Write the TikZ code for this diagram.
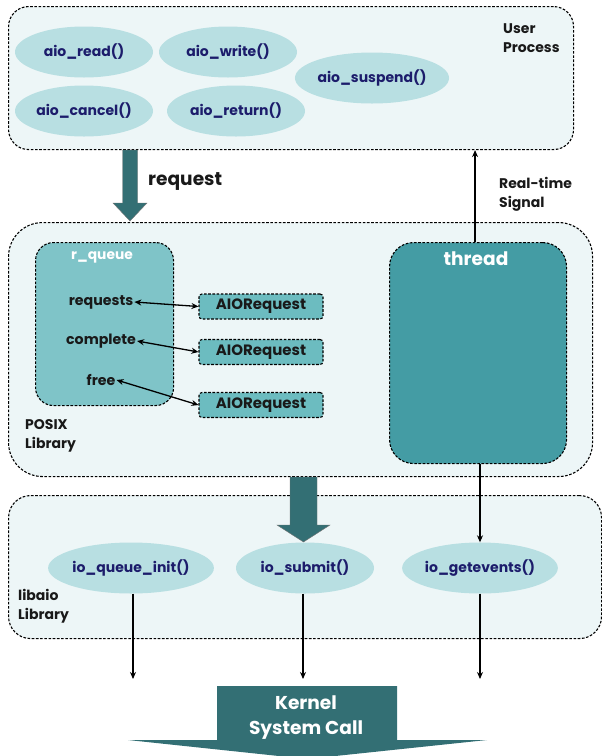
\documentclass[tikz,border=0pt]{standalone}
\usepackage{fontspec}
\setmainfont{Poppins}
\usetikzlibrary{shapes.geometric,arrows.meta,calc}
\definecolor{panelfill}{HTML}{EDF6F7}
\definecolor{ovalfill}{HTML}{B8DFE2}
\definecolor{navy}{HTML}{1C1C6B}
\definecolor{queuefill}{HTML}{7FC4C8}
\definecolor{reqfill}{HTML}{6CBCC0}
\definecolor{threadfill}{HTML}{449CA4}
\definecolor{blockarrow}{HTML}{336F74}
\tikzset{
  x=1pt, y=-1pt,
  dashline/.style={draw=black, line width=1.1pt, dash pattern=on 2.6pt off 1.6pt},
  panel/.style={dashline, fill=panelfill, rounded corners=20pt, anchor=north west, inner sep=0pt},
  fn/.style={ellipse, fill=ovalfill, text=navy, inner sep=0pt, minimum width=138pt, minimum height=51pt,
    font=\fontsize{14}{16}\selectfont\bfseries},
  qlabel/.style={text=black!90, font=\fontsize{14.2}{16}\selectfont\bfseries, inner sep=1pt},
  reqbox/.style={dashline, fill=reqfill, rounded corners=3pt, minimum width=124pt, minimum height=25pt,
    inner sep=0pt, font=\fontsize{15}{16}\selectfont\bfseries, text=black!90},
  caption/.style={align=left, anchor=west, font=\fontsize{14}{19}\selectfont\bfseries, text=black!90, inner sep=0pt},
  tip/.style={-{Stealth[length=7pt,width=6pt]}, line width=1.3pt},
  dtip/.style={{Stealth[length=7pt,width=6pt]}-{Stealth[length=7pt,width=6pt]}, line width=1.3pt},
  blk/.style={fill=blockarrow, draw=black!55, line width=0.4pt},
}
\begin{document}
\begin{tikzpicture}
\useasboundingbox (0,0) rectangle (602,756);
\clip (0,0) rectangle (602,756);

% ---- user process ----
\node[panel, minimum width=565pt, minimum height=143pt] (user) at (8,6) {};
\node[caption] at (503,38) {User\\Process};
\node[fn] (read) at (84,52) {aio\_read()};
\node[fn] (write) at (228,52) {aio\_write()};
\node[fn] (susp) at (372,78) {aio\_suspend()};
\node[fn] (cancel) at (84,111) {aio\_cancel()};
\node[fn] (ret) at (236,111) {aio\_return()};

% ---- POSIX library ----
\node[panel, rounded corners=34pt, minimum width=584pt, minimum height=254pt] (posix) at (8,222) {};
\node[caption] at (25,436) {POSIX\\Library};

\node[dashline, fill=queuefill, rounded corners=18pt, anchor=north west, minimum width=138pt, minimum height=163pt, inner sep=0pt] (rq) at (35,242) {};
\node[text=white, font=\fontsize{13.8}{16}\selectfont\bfseries] at (102,257) {r\_queue};
\node[qlabel] (lreq) at (101,302) {requests};
\node[qlabel] (lcomp) at (101,341) {complete};
\node[qlabel] (lfree) at (101,380) {free};

\node[reqbox] (r1) at (261,306.5) {AIORequest};
\node[reqbox] (r2) at (261,352) {AIORequest};
\node[reqbox] (r3) at (261,405) {AIORequest};
\draw[dtip] (lreq.east) -- (r1.west);
\draw[dtip] (lcomp.east) -- (r2.west);
\draw[dtip] (lfree.east) -- (r3.west);

\node[dashline, fill=threadfill, rounded corners=24pt, anchor=north west, minimum width=177pt, minimum height=221pt, inner sep=0pt] (thread) at (389,242) {};
\node[text=white, font=\fontsize{18.6}{20}\selectfont\bfseries] at (476,259) {thread};

% ---- libaio library ----
\node[panel, rounded corners=22pt, minimum width=593pt, minimum height=143pt] (libaio) at (8,495) {};
\node[caption] at (18,606.5) {libaio\\Library};
\node[fn] (init) at (131,568) {io\_queue\_init()};
\node[fn] (submit) at (305,568) {io\_submit()};
\node[fn] (getev) at (480,568) {io\_getevents()};

% ---- request block arrow: user process -> POSIX library ----
\coordinate (rqtop) at (130,150);
\coordinate (rqtip) at (130,221);
\filldraw[blk] ($(rqtop)+(-7.5,0)$) -- ($(rqtop)+(7.5,0)$) -- ($(rqtip)+(7.5,-18)$) -- ($(rqtip)+(17,-18)$)
  -- (rqtip) -- ($(rqtip)+(-17,-18)$) -- ($(rqtip)+(-7.5,-18)$) -- cycle;
\node[anchor=west, font=\fontsize{18.6}{20}\selectfont\bfseries, text=black!90, inner sep=0pt] at (148,182) {request};

% ---- real-time signal ----
\draw[tip] ($(thread.north)+(-3,0)$) -- ($(thread.north |- user.south)+(-3,0)$);
\node[caption] at (499,194) {Real-time\\Signal};

% ---- POSIX library -> io_submit block arrow ----
\coordinate (sbtop) at (303.5,477);
\coordinate (sbtip) at (303.5,542);
\filldraw[blk] ($(sbtop)+(-13.5,0)$) -- ($(sbtop)+(13.5,0)$) -- ($(sbtip)+(13.5,-17)$) -- ($(sbtip)+(26.5,-17)$)
  -- (sbtip) -- ($(sbtip)+(-26.5,-17)$) -- ($(sbtip)+(-13.5,-17)$) -- cycle;

% ---- thread -> io_getevents ----
\draw[tip] (thread.south -| getev.north) -- (getev.north);

% ---- system call arrows ----
\coordinate (k1) at (133,679);
\coordinate (k2) at (303,679);
\coordinate (k3) at (480,679);
\draw[tip] (init.south -| k1) -- (k1);
\draw[tip] (submit.south -| k2) -- (k2);
\draw[tip] (getev.south) -- (k3);

% ---- kernel block arrow ----
\fill[blockarrow] (217,686) -- (397,686) -- (397,740) -- (487,740) -- (307,759) -- (128,740) -- (217,740) -- cycle;
\node[text=white, align=center, font=\fontsize{18.6}{25}\selectfont\bfseries] at (306,717.5) {Kernel\\System Call};
\end{tikzpicture}
\end{document}
